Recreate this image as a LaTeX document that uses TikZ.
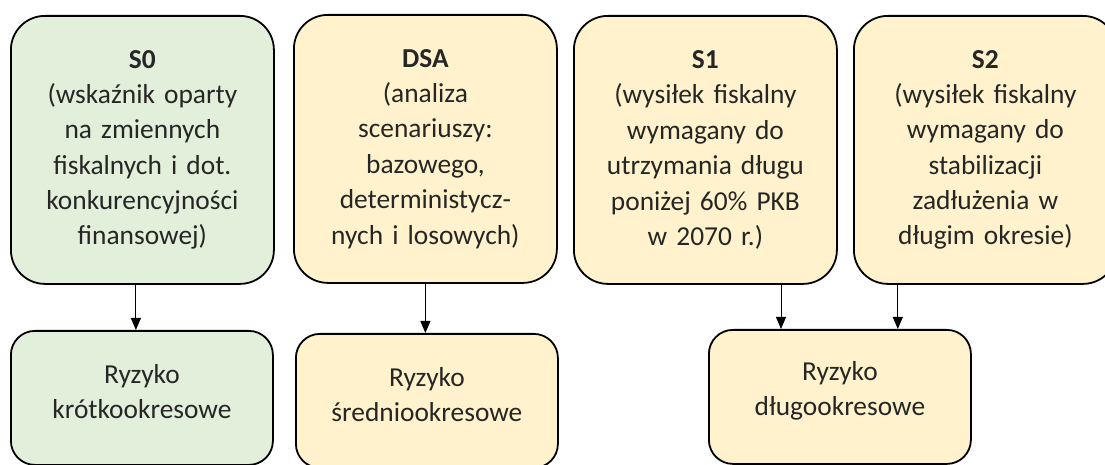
\documentclass[tikz,border=0pt]{standalone}
\usepackage{fontspec}
\setmainfont{Carlito}
\usetikzlibrary{arrows.meta}
\definecolor{shortgreen}{HTML}{E2EFDA}
\definecolor{sandyellow}{HTML}{FFF2CC}

\begin{document}
\begin{tikzpicture}[
  x=1bp, y=-1bp,
  font=\fontsize{27.5}{35.5}\selectfont,
  indicator/.style={draw, line width=1.8bp, rounded corners=34bp, align=center,
    text width=255bp, minimum width=263bp, minimum height=268bp, inner sep=0pt,
    text=black!85},
  risk/.style={draw, line width=1.8bp, rounded corners=24bp, align=center,
    text width=255bp, minimum width=262bp, minimum height=134bp, inner sep=0pt,
    text=black!85},
  flow/.style={-{Triangle[width=10bp,length=12bp]}, line width=1bp}
]
\useasboundingbox (0,0) rectangle (1105,465);
\clip (0,0) rectangle (1105,465);

\node[indicator, fill=shortgreen, anchor=north west] (s0) at (10,15) {\textbf{S0}\\
(wskaźnik oparty\\
na zmiennych\\
fiskalnych i dot.\\
konkurencyjności\\
finansowej)};

\node[indicator, fill=sandyellow, anchor=north west] (dsa) at (293,14) {\textbf{DSA}\\
(analiza\\
scenariuszy:\\
bazowego,\\
deterministycz-\\
nych i losowych)};

\node[indicator, fill=sandyellow, anchor=north west] (s1) at (573,15) {\textbf{S1}\\
(wysiłek fiskalny\\
wymagany do\\
utrzymania długu\\
poniżej 60\% PKB\\
w 2070 r.)};

\node[indicator, fill=sandyellow, anchor=north west] (s2) at (853,15) {\textbf{S2}\\
(wysiłek fiskalny\\
wymagany do\\
stabilizacji\\
zadłużenia w\\
długim okresie)};

\node[risk, fill=shortgreen, anchor=north west] (short) at (10,330) {Ryzyko\\krótkookresowe\par\vspace{12bp}};
\node[risk, fill=sandyellow, anchor=north west] (medium) at (295,333) {Ryzyko\\średniookresowe\par\vspace{12bp}};
\node[risk, fill=sandyellow, anchor=north west] (long) at (708,329) {Ryzyko\\długookresowe\par\vspace{12bp}};

\draw[flow] ([xshift=-6.5bp]s0.south) -- ([xshift=-6.5bp]s0.south |- short.north);
\draw[flow] (dsa.south) -- (dsa.south |- medium.north);
\draw[flow] ([xshift=73bp]long.north west |- s1.south) -- ([xshift=73bp]long.north west);
\draw[flow] ([xshift=-74bp]long.north east |- s2.south) -- ([xshift=-74bp]long.north east);

\end{tikzpicture}
\end{document}
